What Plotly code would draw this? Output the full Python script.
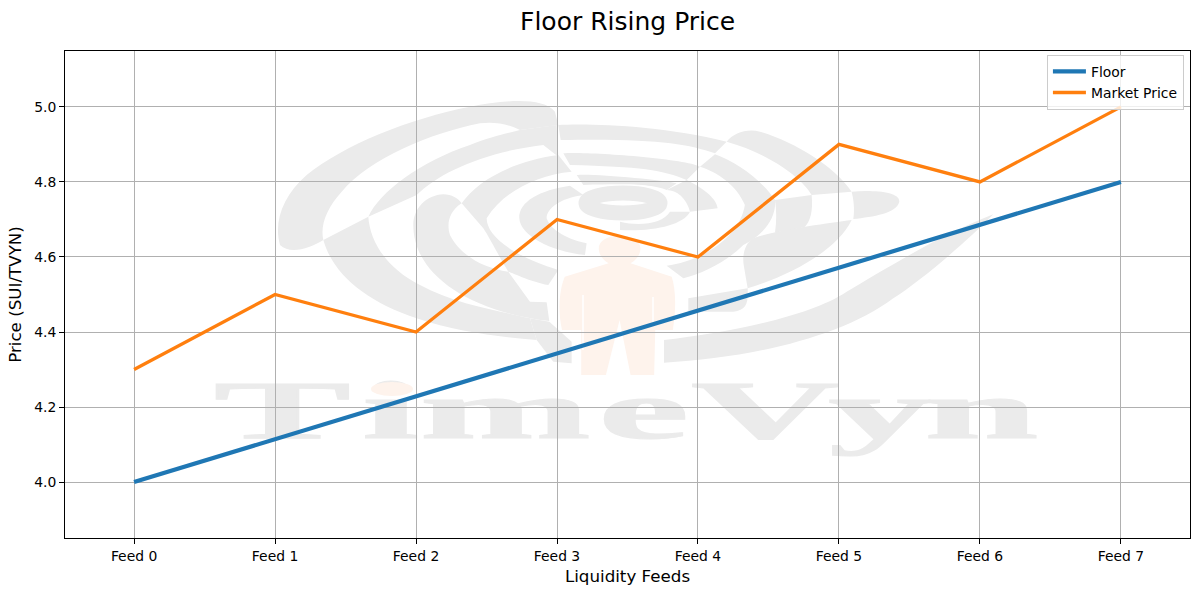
import base64
import plotly.graph_objects as go

feeds = ["Feed 0", "Feed 1", "Feed 2", "Feed 3", "Feed 4", "Feed 5", "Feed 6", "Feed 7"]
floor_price = [4.0, 4.114, 4.229, 4.343, 4.457, 4.571, 4.686, 4.8]
market_price = [4.3, 4.5, 4.4, 4.7, 4.6, 4.9, 4.8, 5.0]
y_ticks = [4.0, 4.2, 4.4, 4.6, 4.8, 5.0]

W, H = 1200, 595
L, R, T, B = 65, 10, 51, 57
plot_w = W - L - R
plot_h = H - T - B

# watermark behind the grid, one svg over the plot area (logo, person, stretched name)
GREY = "#ebebeb"
PEACH = "#fef3ec"
# left half of the spiral, units are 1/3 px from (270,95)
logo_left = [
    "M30,450 C10,380 40,300 110,240 C220,150 420,70 600,35 C700,15 820,5 855,50 L865,90 L750,105 C710,85 670,80 630,85 C480,115 300,190 215,290 C170,340 150,390 160,435 C120,460 60,480 30,450 Z",
    "M295,365 C330,290 450,200 600,150 C660,125 710,115 750,105 L860,90 L865,185 L820,150 C650,170 510,230 440,300 Z",
    "M160,435 L295,365 C300,440 350,520 450,570 C560,630 700,650 780,670 L800,735 C680,725 560,710 440,670 C290,620 190,540 160,435 Z",
    "M430,390 C430,340 470,300 520,298 C545,298 565,310 575,325 C535,350 530,390 540,420 C570,480 640,520 715,530 L780,620 L830,622 L838,678 C600,650 430,540 430,390 Z",
    "M575,325 C620,260 720,200 865,180 L905,230 C800,240 700,290 650,370 C650,420 720,480 865,525 L835,570 C780,560 720,530 715,530 C690,490 660,430 640,400 Z",
    "M748,370 C745,320 810,285 900,272 L940,300 C870,310 830,340 830,370 C840,400 880,430 950,445 L945,480 C840,470 750,420 748,370 Z",
    "M780,670 L838,680 L905,740 L905,805 L850,800 L800,735 Z",
]
# right half, units are 1/3 px from (620,95)
logo_right = [
    "M-185,90 C-100,85 120,90 320,140 L285,175 C200,145 100,130 -178,135 Z",
    "M-170,175 C-100,170 190,190 240,215 L200,255 C130,225 60,215 -150,210 Z",
    "M-130,240 C-80,235 130,255 170,265 L140,285 C100,270 50,265 -110,270 Z",
    "M320,140 C340,115 380,100 420,110 C520,140 640,210 695,290 L575,300 C540,240 430,170 320,140 Z",
    "M285,178 C350,200 430,260 465,315 L375,330 C350,270 290,230 240,215 Z",
    "M200,255 C250,280 290,310 293,340 L210,350 C200,310 170,285 140,285 Z",
    "M695,290 C760,285 840,290 838,320 C830,355 760,365 700,372 C705,340 700,310 695,290 Z",
    "M465,315 L575,300 C580,350 570,380 555,395 C520,405 480,410 465,413 C470,380 470,345 465,315 Z",
    "M695,375 C620,385 470,405 400,430 C375,445 365,480 372,515 L383,580 L205,610 L205,650 L340,650 C380,645 385,625 383,580 C500,545 650,470 695,375 Z",
    "M375,328 L465,315 C470,370 430,420 370,450 C320,500 250,535 190,550 L140,512 C240,500 360,430 375,328 Z",
    "M0,380 C60,395 130,385 150,350 L210,350 C190,390 100,410 0,405 Z",
    "M132,735 C300,715 560,670 680,590 C800,520 960,420 1120,358 C1040,440 900,560 820,610 C660,730 380,790 132,803 Z",
]
person_path = (
    "M727,475 C727,450 745,437 765,437 C785,437 803,450 803,475 C803,495 795,510 785,520 "
    "L860,560 C868,600 868,660 862,720 L830,720 L828,855 L785,855 L765,690 L740,855 L695,855 "
    "L695,720 L660,720 C652,660 655,600 665,560 L745,520 C735,510 727,495 727,475 Z"
)
svg = [f'<svg xmlns="http://www.w3.org/2000/svg" viewBox="{L} {T} {plot_w} {plot_h}" width="{plot_w}" height="{plot_h}">']
svg.append('<g transform="translate(270,95) scale(0.3333)">')
for p in logo_left:
    svg.append(f'<path d="{p}" fill="{GREY}"/>')
svg.append('</g><g transform="translate(620,95) scale(0.3333)">')
for p in logo_right:
    svg.append(f'<path d="{p}" fill="{GREY}"/>')
svg.append("</g>")
svg.append(f'<ellipse cx="623" cy="203" rx="37" ry="10" fill="none" stroke="{GREY}" stroke-width="15"/>')
svg.append('<g transform="translate(200,90) scale(0.5485,0.3333)">')
svg.append(f'<path d="{person_path}" fill="{PEACH}"/>')
svg.append("</g>")
svg.append('<path d="M583,295 V350 M653,297 V322" stroke="white" stroke-width="1.5"/>')
# each glyph placed by hand, the name in the logo is wider than the font
svg.append(
    f'<text transform="translate(213.7,438.3) scale(0.823,0.3333)" x="0 180 250 467 580 747 863" '
    f'font-family="Liberation Serif" font-weight="bold" font-size="250" fill="{GREY}" '
    f'stroke="{GREY}" stroke-width="3">TimeVyn</text>'
)
svg.append(f'<ellipse cx="392" cy="389" rx="21" ry="7" fill="{PEACH}"/>')
svg.append("</svg>")
watermark = "data:image/svg+xml;base64," + base64.b64encode("".join(svg).encode()).decode()

floor_line = go.Scatter(x=feeds, y=floor_price, mode="lines", name="Floor",
                        line=dict(color="#1f77b4", width=4.2))
market_line = go.Scatter(x=feeds, y=market_price, mode="lines", name="Market Price",
                         line=dict(color="#ff7f0e", width=3.3))

layout = go.Layout(
    width=W,
    height=H,
    margin=dict(l=L, r=R, t=T, b=B, pad=0),
    paper_bgcolor="white",
    plot_bgcolor="white",
    font=dict(family="DejaVu Sans", color="black", size=13.9),
    title=dict(text="Floor Rising Price", x=0.523, xanchor="center", y=0.964, yanchor="middle",
               font=dict(size=25, color="black")),
    xaxis=dict(title=dict(text="Liquidity Feeds", font=dict(size=16.7), standoff=7),
               range=[-0.49, 7.49], showgrid=True, gridcolor="#b0b0b0", gridwidth=1,
               showline=True, linecolor="black", linewidth=1, mirror=True,
               ticks="outside", ticklen=5, tickcolor="black", zeroline=False),
    yaxis=dict(title=dict(text="Price (SUI/TVYN)", font=dict(size=16.7), standoff=8),
               range=[3.851, 5.149], tickvals=y_ticks, ticktext=[f"{v:.1f}" for v in y_ticks],
               showgrid=True, gridcolor="#b0b0b0", gridwidth=1,
               showline=True, linecolor="black", linewidth=1, mirror=True,
               ticks="outside", ticklen=5, tickcolor="black", zeroline=False),
    legend=dict(x=0.9946, y=0.992, xanchor="right", yanchor="top", bgcolor="rgba(255,255,255,0.8)",
                bordercolor="#cccccc", borderwidth=1, itemwidth=33, font=dict(size=13.9)),
    images=[dict(source=watermark, xref="paper", yref="paper", x=0, y=1, sizex=1, sizey=1,
                 xanchor="left", yanchor="top", sizing="stretch", layer="below")],
)

fig = go.Figure(data=[floor_line, market_line], layout=layout)
fig.write_html("out.html", config=dict(displayModeBar=False),
               post_script="document.body.style.margin='0';")
